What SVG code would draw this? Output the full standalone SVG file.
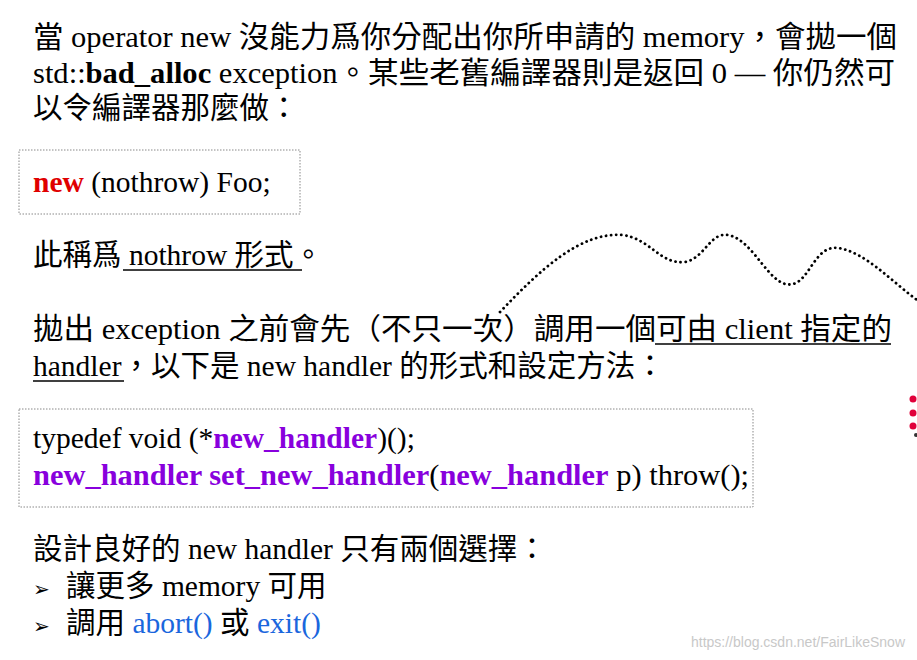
<svg xmlns="http://www.w3.org/2000/svg" width="917" height="660" viewBox="0 0 917 660">
<style>
text{font-family:"Liberation Serif","Noto Sans CJK TC",serif;font-size:29.5px;fill:#000}
.b{font-weight:bold}.r{fill:#e00000}.p{fill:#8800dd}.bl{fill:#1a66dd}
.box{fill:none;stroke:#888;stroke-width:1;stroke-dasharray:1.5 1.5}
.u{stroke:#000;stroke-width:1.3}
</style>
<rect width="917" height="660" fill="#fff"/>
<g id="intro">
<text x="33" y="47" textLength="864" lengthAdjust="spacingAndGlyphs">當 operator new 沒能力爲你分配出你所申請的 memory，會拋一個</text>
<text x="33" y="83" textLength="862" lengthAdjust="spacingAndGlyphs">std::<tspan class="b">bad_alloc</tspan> exception。某些老舊編譯器則是返回 0 — 你仍然可</text>
<text x="33" y="118">以令編譯器那麼做：</text>
</g>
<g id="code1">
<rect class="box" x="19" y="150" width="281" height="64"/>
<text x="33" y="192"><tspan class="b r">new</tspan> (nothrow) Foo;</text>
</g>
<g id="nothrow">
<text x="33" y="265">此稱爲 nothrow 形式。</text>
<line class="u" x1="123" y1="270" x2="302" y2="270"/>
</g>
<g id="handlertext">
<text x="33" y="339" textLength="859" lengthAdjust="spacingAndGlyphs">拋出 exception 之前會先（不只一次）調用一個可由 client 指定的</text>
<line class="u" x1="655" y1="344" x2="891" y2="344"/>
<text x="33" y="376">handler，以下是 new handler 的形式和設定方法：</text>
<line class="u" x1="33" y1="381" x2="124" y2="381"/>
</g>
<g id="code2">
<rect class="box" x="19" y="409" width="734" height="98"/>
<text x="33" y="448">typedef void (*<tspan class="b p">new_handler</tspan>)();</text>
<text x="33" y="485" textLength="716" lengthAdjust="spacingAndGlyphs"><tspan class="b p">new_handler set_new_handler</tspan>(<tspan class="b p">new_handler</tspan> p) throw();</text>
</g>
<g id="choices">
<text x="33" y="559">設計良好的 new handler 只有兩個選擇：</text>
<text x="33" y="596" style="font-size:20px">➢</text><text x="66" y="596">讓更多 memory 可用</text>
<text x="33" y="633" style="font-size:20px">➢</text><text x="66" y="633">調用 <tspan class="bl">abort()</tspan> 或 <tspan class="bl">exit()</tspan></text>
</g>
<g id="decor">
<path d="M500,312 C540,270 580,232 622,235 C650,238 660,265 685,262 C705,258 710,232 728,235 C755,240 770,290 793,284 C810,280 815,245 838,248 C865,252 890,280 917,300" fill="none" stroke="#000" stroke-width="2.8" stroke-dasharray="0.1 5" stroke-linecap="round"/>
<circle cx="913" cy="399" r="3.5" fill="#e0003a"/>
<circle cx="913" cy="413" r="3.5" fill="#e0003a"/>
<circle cx="913" cy="426" r="3.5" fill="#e0003a"/>
<circle cx="916" cy="435" r="2" fill="#333"/>
</g>
<text x="905" y="647" text-anchor="end" style="font-family:'Liberation Sans',sans-serif;font-size:14px;fill:#c8c8c8">https://blog.csdn.net/FairLikeSnow</text>
</svg>
